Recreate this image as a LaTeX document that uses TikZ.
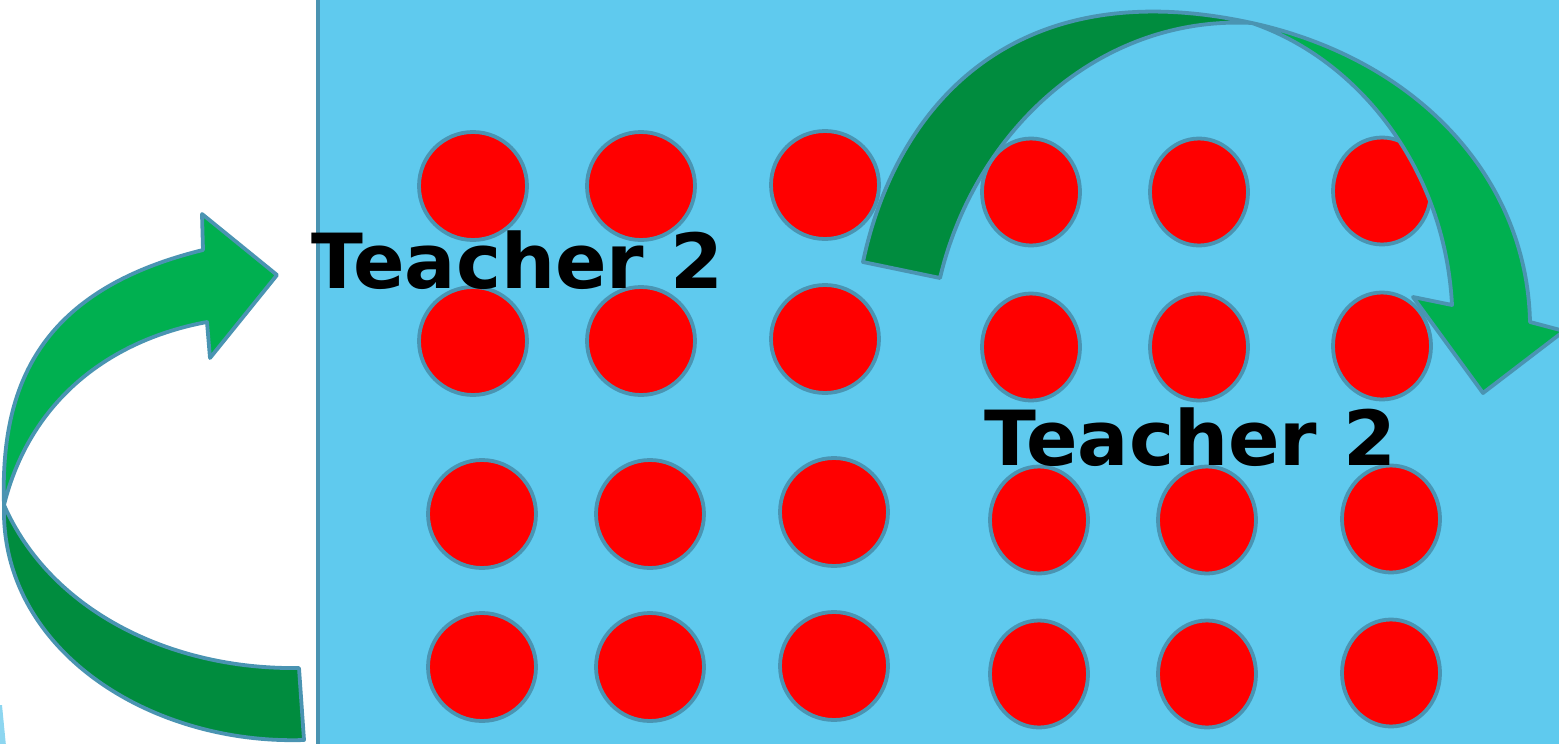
\documentclass[tikz,border=0pt]{standalone}
\usepackage{fontspec}
\newfontfamily\labelfont{DejaVu Sans}
\usetikzlibrary{shapes.geometric}
\definecolor{sky}{HTML}{5FCAEE}
\definecolor{edgeblue}{HTML}{4A94B2}
\definecolor{lightgreen}{HTML}{00B050}
\definecolor{darkgreen}{HTML}{008C3E}
\definecolor{sliver}{HTML}{8DD6F0}
\begin{document}
\begin{tikzpicture}[x=0.5pt,y=-0.5pt,
  dot/.style={circle,draw=edgeblue,line width=1.9pt,fill=red,minimum size=54pt,inner sep=0pt},
  egg/.style={ellipse,draw=edgeblue,line width=1.9pt,fill=red,minimum width=49pt,minimum height=53.5pt,inner sep=0pt},
  teacher/.style={anchor=base west,inner sep=0pt,font=\labelfont\bfseries\fontsize{38pt}{40pt}\selectfont},
  lightpart/.style={fill=lightgreen,draw=edgeblue,line width=1.9pt,line join=round},
  darkpart/.style={fill=darkgreen,draw=edgeblue,line width=1.9pt,line join=round}]
\useasboundingbox (0,0) rectangle (1559,744);
\begin{scope}
\clip (0,0) rectangle (1559,744);
% background panel
\fill[sky] (317,0) rectangle (1570,750);
\draw[edgeblue,line width=2pt] (318,-5) -- (318,750);
% light sliver bottom-left
\fill[sliver] (0,705) -- (2,705) -- (6,746) -- (0,746) -- cycle;

% left block of circles
\node[dot] (a11) at (473,186) {};
\node[dot] (a12) at (641,186) {};
\node[dot] (a13) at (825,185) {};
\node[dot] (a21) at (473,341) {};
\node[dot] (a22) at (641,341) {};
\node[dot] (a23) at (825,339) {};
\node[dot] (a31) at (482,514) {};
\node[dot] (a32) at (650,514) {};
\node[dot] (a33) at (834,512) {};
\node[dot] (a41) at (482,667) {};
\node[dot] (a42) at (650,667) {};
\node[dot] (a43) at (834,666) {};
% right block of ellipses
\node[egg] (b11) at (1031,192) {};
\node[egg] (b12) at (1199,192) {};
\node[egg] (b13) at (1382,191) {};
\node[egg] (b21) at (1031,347) {};
\node[egg] (b22) at (1199,347) {};
\node[egg] (b23) at (1382,346) {};
\node[egg] (b31) at (1039,520) {};
\node[egg] (b32) at (1207,520) {};
\node[egg] (b33) at (1391,519) {};
\node[egg] (b41) at (1039,674) {};
\node[egg] (b42) at (1207,674) {};
\node[egg] (b43) at (1391,673) {};

% left curved arrow
\draw[darkpart] (4,505) .. controls (0,650) and (150,745) .. (304,740)
  -- (299,668) .. controls (170,670) and (50,610) .. (4,505) -- cycle;
\draw[lightpart] (4,505) .. controls (0,385) and (40,290) .. (203,250)
  -- (202,214) -- (277,275) -- (210,358) -- (207,322)
  .. controls (110,340) and (30,400) .. (4,505) -- cycle;

% right curved arrow
\draw[darkpart] (863,262) .. controls (895,110) and (1010,-30) .. (1252,23)
  .. controls (1100,15) and (975,130) .. (940,278) -- cycle;
\draw[lightpart] (1252,23) .. controls (1420,60) and (1527,180) .. (1530,322)
  -- (1564,331) -- (1483,393) -- (1413,297) -- (1452,305)
  .. controls (1445,170) and (1360,60) .. (1252,23) -- cycle;

% labels
\node[teacher] (t1) at (311,288) {Teacher 2};
\node[teacher] (t2) at (984,465) {Teacher 2};
\end{scope}
\end{tikzpicture}
\end{document}
